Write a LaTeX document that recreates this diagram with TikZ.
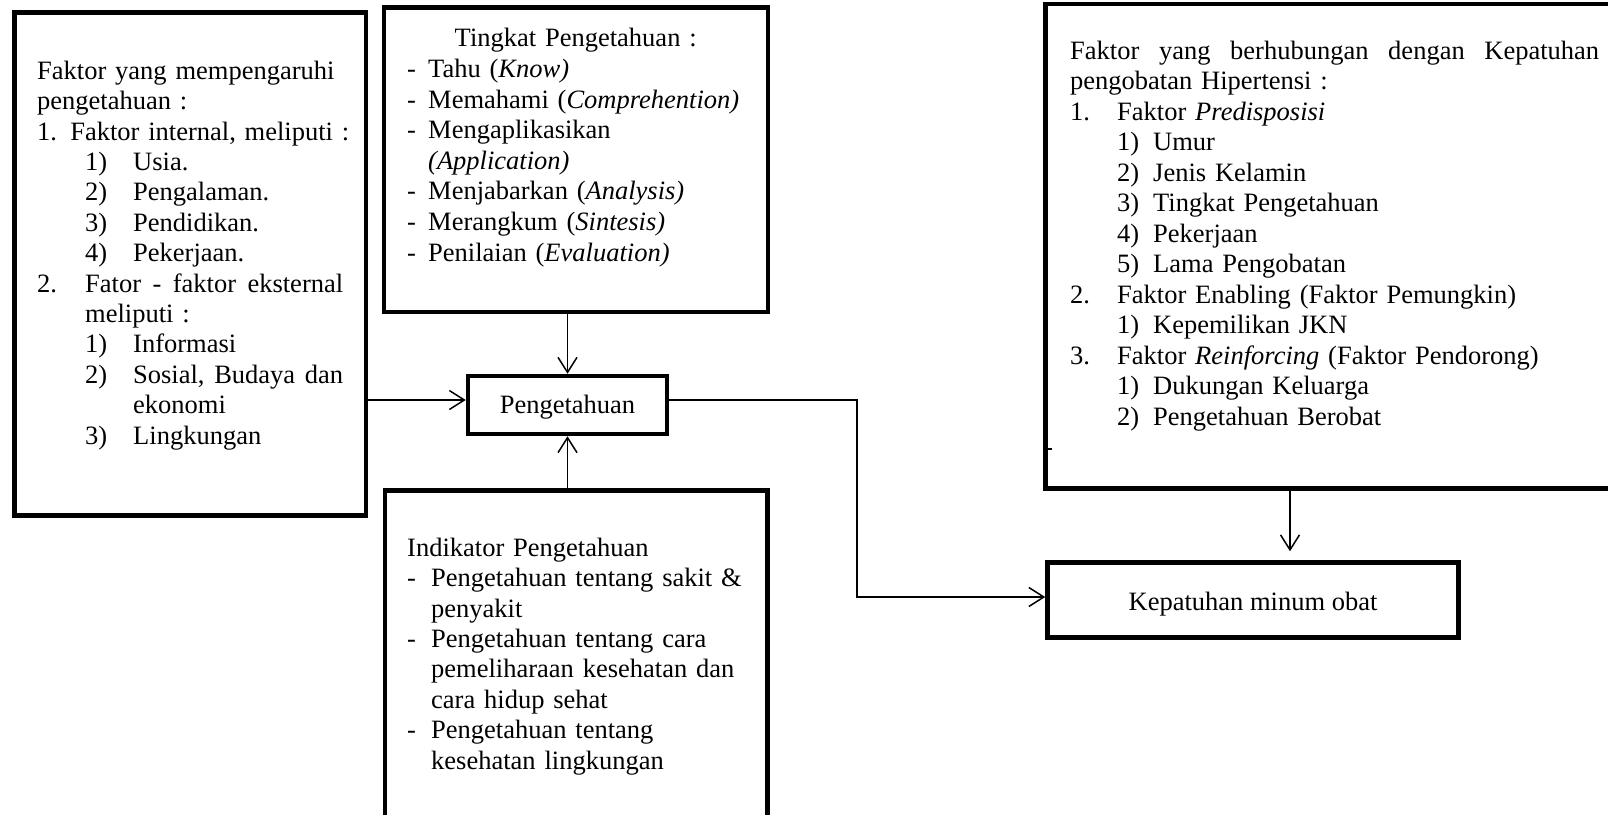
\documentclass[tikz,border=0pt]{standalone}
\usepackage{fontspec}
\setmainfont{Liberation Serif}
\usetikzlibrary{arrows.meta}
\setlength\parindent{0pt}
\begin{document}
\begin{tikzpicture}[x=1pt,y=-1pt,
  box/.style={draw, line width=4.5pt, inner sep=0pt},
  txt/.style={inner sep=0pt, anchor=north west, align=left, font=\fontsize{26.5}{30.4}\selectfont},
  lbl/.style={inner sep=0pt, anchor=base, font=\fontsize{26.5}{30.4}\selectfont},
  conn/.style={line width=1.5pt},
  arr/.style={conn, -{Straight Barb[length=15pt,width=19pt]}}]
\fill[white] (0,0) rectangle (1608,814);
\useasboundingbox (0,0) rectangle (1608,814);

% boxes
\node[box, minimum width=351.5pt, minimum height=503pt] (lbox) at (190.25,264) {};
\node[box, minimum width=384pt, minimum height=304.5pt] (tbox) at (576,159.75) {};
\node[box, minimum width=199pt, minimum height=58pt] (peng) at (567.5,405) {};
\node[box, minimum width=382.5pt, minimum height=339.5pt] (ibox) at (576.25,660.25) {};
\node[box, minimum width=579.5pt, minimum height=484.5pt] (rbox) at (1335.25,246.25) {};
\node[box, minimum width=411pt, minimum height=75pt] (kep) at (1253,600) {};

% texts
\node[txt, text width=320pt] (ltxt) at (37,58) {\rule{0pt}{21pt}Faktor yang mempengaruhi\\
pengetahuan :\\
1. Faktor internal, meliputi :\\
\hspace*{48pt}\makebox[48pt][l]{1)}Usia.\\
\hspace*{48pt}\makebox[48pt][l]{2)}Pengalaman.\\
\hspace*{48pt}\makebox[48pt][l]{3)}Pendidikan.\\
\hspace*{48pt}\makebox[48pt][l]{4)}Pekerjaan.\\
\makebox[48pt][l]{2.}\hbox to 258pt{Fator\hfill-\hfill faktor\hfill eksternal}\\
\hspace*{48pt}meliputi :\\
\hspace*{48pt}\makebox[48pt][l]{1)}Informasi\\
\hspace*{48pt}\makebox[48pt][l]{2)}\hbox to 210pt{Sosial,\hfill Budaya\hfill dan}\\
\hspace*{96pt}ekonomi\\
\hspace*{48pt}\makebox[48pt][l]{3)}Lingkungan};

\node[txt, text width=345pt, font=\fontsize{26.5}{30.6}\selectfont] (ttxt) at (407,25.7) {\rule{0pt}{21pt}\makebox[337pt]{Tingkat Pengetahuan :}\\
\makebox[21pt][l]{-}Tahu (\textit{Know)}\\
\makebox[21pt][l]{-}Memahami (\textit{Comprehention)}\\
\makebox[21pt][l]{-}Mengaplikasikan\\
\hspace*{21pt}\textit{(Application)}\\
\makebox[21pt][l]{-}Menjabarkan (\textit{Analysis)}\\
\makebox[21pt][l]{-}Merangkum (\textit{Sintesis)}\\
\makebox[21pt][l]{-}Penilaian (\textit{Evaluation)}};

\node[txt, text width=350pt] (itxt) at (407,535) {\rule{0pt}{21pt}Indikator Pengetahuan\\
\makebox[24pt][l]{-}Pengetahuan tentang sakit \&\\
\hspace*{24pt}penyakit\\
\makebox[24pt][l]{-}Pengetahuan tentang cara\\
\hspace*{24pt}pemeliharaan kesehatan dan\\
\hspace*{24pt}cara hidup sehat\\
\makebox[24pt][l]{-}Pengetahuan tentang\\
\hspace*{24pt}kesehatan lingkungan};

\node[txt, text width=545pt, font=\fontsize{26.5}{30.5}\selectfont] (rtxt) at (1070,38) {\rule{0pt}{21pt}\hbox to 529pt{Faktor\hfill yang\hfill berhubungan\hfill dengan\hfill Kepatuhan}\\
pengobatan Hipertensi :\\
\makebox[47pt][l]{1.}Faktor \textit{Predisposisi}\\
\hspace*{47pt}\makebox[36pt][l]{1)}Umur\\
\hspace*{47pt}\makebox[36pt][l]{2)}Jenis Kelamin\\
\hspace*{47pt}\makebox[36pt][l]{3)}Tingkat Pengetahuan\\
\hspace*{47pt}\makebox[36pt][l]{4)}Pekerjaan\\
\hspace*{47pt}\makebox[36pt][l]{5)}Lama Pengobatan\\
\makebox[47pt][l]{2.}Faktor Enabling (Faktor Pemungkin)\\
\hspace*{47pt}\makebox[36pt][l]{1)}Kepemilikan JKN\\
\makebox[47pt][l]{3.}Faktor \textit{Reinforcing} (Faktor Pendorong)\\
\hspace*{47pt}\makebox[36pt][l]{1)}Dukungan Keluarga\\
\hspace*{47pt}\makebox[36pt][l]{2)}Pengetahuan Berobat};

\node[lbl] (pengtxt) at (567.5,413.3) {Pengetahuan};
\node[lbl] (keptxt) at (1253,610) {Kepatuhan minum obat};

% connectors
\coordinate (row) at (0,400);
\coordinate (bend) at (857,597);
\coordinate (kx) at (1290,0);
\coordinate (tk) at (0,449);
\draw[arr] (lbox.east |- row) -- (peng.west |- row);
\draw[arr] (tbox.south -| peng.north) -- (peng.north);
\draw[arr] (ibox.north -| peng.south) -- (peng.south);
\draw[arr] (peng.east |- row) -| (bend) -- (kep.west |- bend);
\draw[arr, shorten >=9pt] (rbox.south -| kx) -- (kep.north -| kx);
\draw[line width=1.2pt] (rbox.west |- tk) -- ++(9,0);
\end{tikzpicture}
\end{document}
